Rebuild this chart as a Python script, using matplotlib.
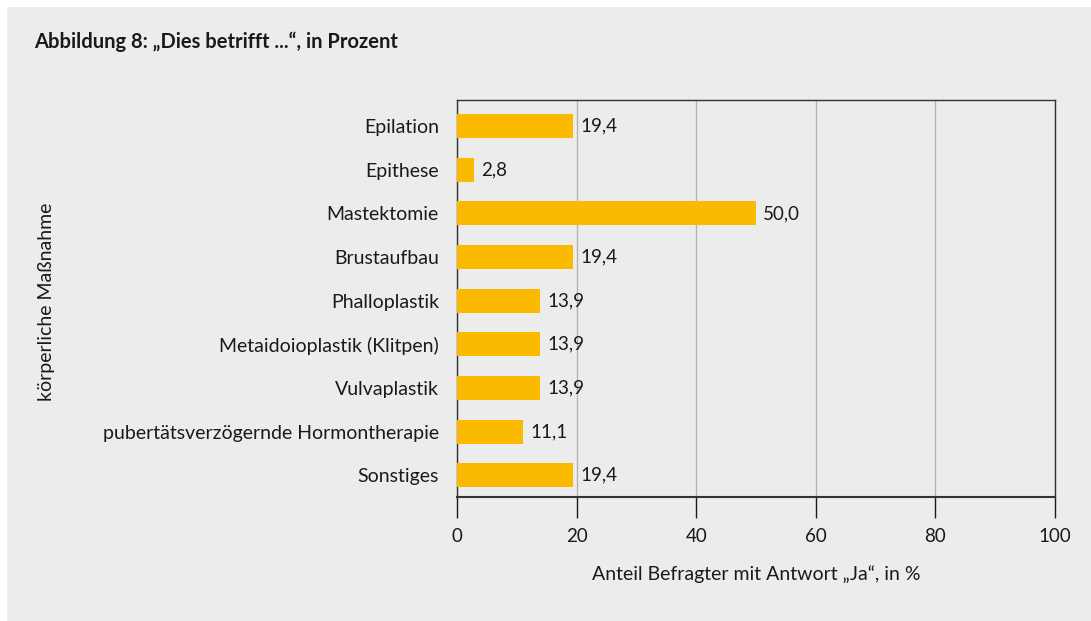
import matplotlib.pyplot as plt
from matplotlib.patches import Rectangle

categories = ["Epilation", "Epithese", "Mastektomie", "Brustaufbau", "Phalloplastik",
              "Metaidoioplastik (Klitpen)", "Vulvaplastik",
              "pubertätsverzögernde Hormontherapie", "Sonstiges"]
values = [19.4, 2.8, 50.0, 19.4, 13.9, 13.9, 13.9, 11.1, 19.4]
xticks = [0, 20, 40, 60, 80, 100]

plt.rcParams['font.family'] = ['Lato', 'DejaVu Sans']
bg = '#ececec'
bar_color = '#fbb900'
txt = '#1a1a1a'

W, H = 1091, 621
fig = plt.figure(figsize=(W / 100, H / 100), dpi=100, facecolor='white')
fig.patches.append(Rectangle((7 / W, 0), 1 - 7 / W, (H - 7) / H, transform=fig.transFigure,
                             facecolor=bg, edgecolor='none', zorder=-1))

ax = fig.add_axes([457 / W, 1 - 497 / H, (1055 - 457) / W, (497 - 100) / H])
ax.set_facecolor(bg)

y = list(range(len(categories)))
ax.barh(y, values, height=0.55, color=bar_color, zorder=3)
for yi, v in zip(y, values):
    ax.text(v + 1.2, yi, f"{v:.1f}".replace('.', ','), va='center', ha='left',
            fontsize=13.5, color=txt, zorder=4)

ax.set_xlim(0, 100)
ax.set_ylim(8.5, -0.6)
ax.set_yticks(y)
ax.set_yticklabels(categories, fontsize=14, color=txt)
ax.set_xticks(xticks)
ax.set_xticklabels([str(t) for t in xticks], fontsize=13.5, color=txt)
ax.tick_params(axis='y', length=0, pad=13)
ax.tick_params(axis='x', length=15, width=1, direction='out', pad=7, color=txt)
ax.grid(axis='x', color='#b4b4b4', linewidth=1, zorder=0)
for s in ax.spines.values():
    s.set_color('#333333')
    s.set_linewidth(1)
ax.spines['bottom'].set_linewidth(1.5)

ax.set_xlabel("Anteil Befragter mit Antwort „Ja“, in %", fontsize=14, color=txt, labelpad=15)
fig.text(47 / W, 1 - 302 / H, "körperliche Maßnahme", rotation=90, ha='center', va='center',
         fontsize=14, color=txt)
fig.text(34 / W, 1 - 42 / H, "Abbildung 8: „Dies betrifft ...“, in Prozent", ha='left', va='center',
         fontsize=14.5, fontweight='bold', color=txt)

fig.savefig('out.png', dpi=100, facecolor=fig.get_facecolor())
